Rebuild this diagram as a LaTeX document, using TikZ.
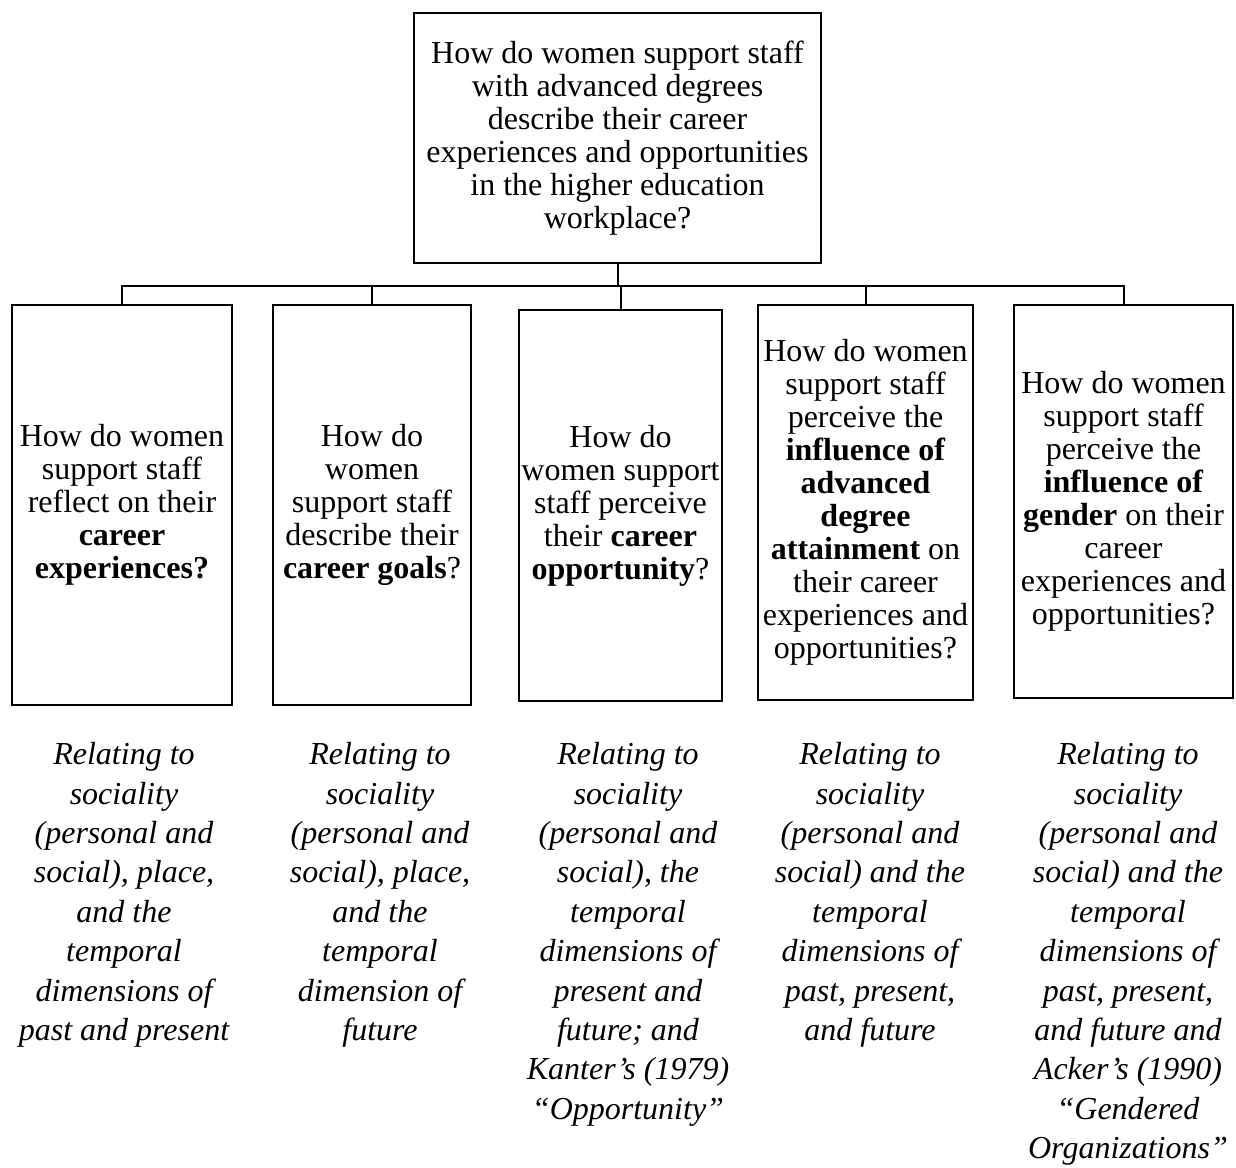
\documentclass[tikz,border=0pt]{standalone}
\usepackage{fontspec}
\setmainfont{Liberation Serif}
\begin{document}
\begin{tikzpicture}[x=0.5pt,y=-0.5pt,
  qbox/.style={draw, line width=1.3pt, inner sep=0pt, align=center,
    font=\fontsize{16}{16.5}\selectfont},
  lbl/.style={inner sep=0pt, align=center, anchor=north,
    font=\fontsize{16}{19.7}\selectfont\itshape},
  conn/.style={line width=1pt}]
\useasboundingbox (0,0) rectangle (1236,1167);
\node[qbox, minimum width=203.5pt, minimum height=125pt] (top) at (617.5,138)
  {How do women support staff\\with advanced degrees\\describe their career\\experiences and opportunities\\in the higher education\\workplace?};
\node[qbox, minimum width=110pt, minimum height=200pt] (b1) at (122,505)
  {How do women\\support staff\\reflect on their\\\textbf{career}\\\textbf{experiences?}};
\node[qbox, minimum width=99pt, minimum height=200pt] (b2) at (372,505)
  {How do\\women\\support staff\\describe their\\\textbf{career goals}?};
\node[qbox, minimum width=101.5pt, minimum height=195.5pt] (b3) at (620.5,505.5)
  {How do\\women support\\staff perceive\\their \textbf{career}\\\textbf{opportunity}?};
\node[qbox, minimum width=107.5pt, minimum height=197.5pt] (b4) at (865.5,502.5)
  {How do women\\support staff\\perceive the\\\textbf{influence of}\\\textbf{advanced}\\\textbf{degree}\\\textbf{attainment} on\\their career\\experiences and\\opportunities?};
\node[qbox, minimum width=109.5pt, minimum height=196.5pt] (b5) at (1123.5,501.5)
  {How do women\\support staff\\perceive the\\\textbf{influence of}\\\textbf{gender} on their\\career\\experiences and\\opportunities?};
\coordinate (bar) at (0,286);
\draw[conn] (top.south) -- (top.south |- bar);
\draw[conn] (b1.north) |- (b5.north |- bar) -- (b5.north);
\draw[conn] (b2.north) -- (b2.north |- bar);
\draw[conn] (b3.north) -- (b3.north |- bar);
\draw[conn] (b4.north) -- (b4.north |- bar);
\node[lbl] (l1) at (124,742) {Relating to\\sociality\\(personal and\\social), place,\\and the\\temporal\\dimensions of\\past and present};
\node[lbl] (l2) at (380,742) {Relating to\\sociality\\(personal and\\social), place,\\and the\\temporal\\dimension of\\future};
\node[lbl] (l3) at (628,742) {Relating to\\sociality\\(personal and\\social), the\\temporal\\dimensions of\\present and\\future; and\\Kanter’s (1979)\\“Opportunity”};
\node[lbl] (l4) at (870,742) {Relating to\\sociality\\(personal and\\social) and the\\temporal\\dimensions of\\past, present,\\and future};
\node[lbl] (l5) at (1128,742) {Relating to\\sociality\\(personal and\\social) and the\\temporal\\dimensions of\\past, present,\\and future and\\Acker’s (1990)\\“Gendered\\Organizations”};
\end{tikzpicture}
\end{document}
